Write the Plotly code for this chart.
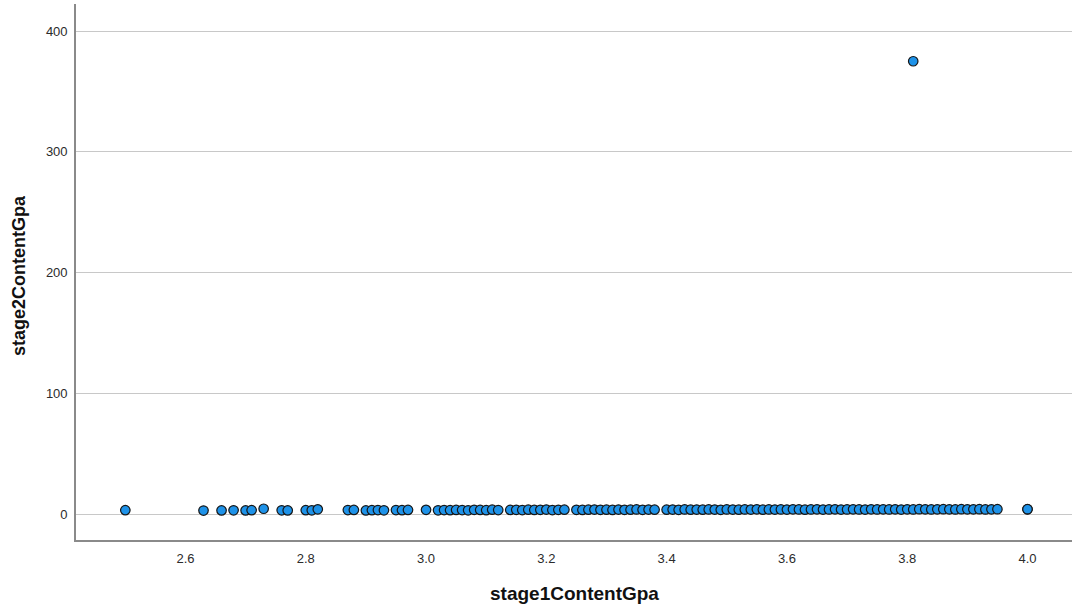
import plotly.graph_objects as go

# ---- data ----
stage1_low = [2.50, 2.63, 2.66, 2.68, 2.70, 2.71, 2.73, 2.76, 2.77, 2.80, 2.81,
              2.82, 2.87, 2.88, 2.90, 2.91, 2.92, 2.93, 2.95, 2.96, 2.97, 3.00]
stage2_low = [3.2, 2.9, 3.0, 3.1, 3.0, 3.2, 4.4, 3.1, 3.0, 3.2, 3.1,
              3.9, 3.3, 3.4, 3.0, 3.2, 3.3, 3.1, 3.3, 3.2, 3.4, 3.5]

stage1_a = [3.02, 3.03, 3.04, 3.05, 3.06, 3.07, 3.08, 3.09, 3.10, 3.11, 3.12]
stage2_a = [3.1, 3.3, 3.2, 3.4, 3.3, 3.1, 3.5, 3.4, 3.2, 3.6, 3.3]

stage1_b = [3.14, 3.15, 3.16, 3.17, 3.18, 3.19, 3.20, 3.21, 3.22, 3.23]
stage2_b = [3.4, 3.5, 3.3, 3.6, 3.4, 3.5, 3.7, 3.3, 3.5, 3.6]

stage1_c = [3.25, 3.26, 3.27, 3.28, 3.29, 3.30, 3.31, 3.32, 3.33, 3.34, 3.35,
            3.36, 3.37, 3.38]
stage2_c = [3.5, 3.4, 3.6, 3.7, 3.5, 3.6, 3.4, 3.7, 3.5, 3.6, 3.8,
            3.5, 3.7, 3.6]

stage1_d = [3.40, 3.41, 3.42, 3.43, 3.44, 3.45, 3.46, 3.47, 3.48, 3.49,
            3.50, 3.51, 3.52, 3.53, 3.54, 3.55, 3.56, 3.57, 3.58, 3.59,
            3.60, 3.61, 3.62, 3.63, 3.64, 3.65, 3.66, 3.67, 3.68, 3.69,
            3.70, 3.71, 3.72, 3.73, 3.74, 3.75, 3.76, 3.77, 3.78, 3.79,
            3.80, 3.81, 3.82, 3.83, 3.84, 3.85, 3.86, 3.87, 3.88, 3.89,
            3.90, 3.91, 3.92, 3.93, 3.94, 3.95]
stage2_d = [3.6, 3.7, 3.5, 3.8, 3.6, 3.7, 3.6, 3.8, 3.7, 3.5,
            3.8, 3.7, 3.6, 3.8, 3.7, 3.9, 3.6, 3.8, 3.7, 3.8,
            3.7, 3.9, 3.8, 3.6, 3.8, 3.9, 3.7, 3.8, 3.9, 3.7,
            3.8, 3.9, 3.8, 3.7, 3.9, 3.8, 3.9, 3.8, 3.9, 3.7,
            3.9, 3.8, 4.0, 3.9, 3.8, 3.9, 4.0, 3.9, 3.8, 4.0,
            3.9, 3.9, 4.0, 3.8, 3.9, 4.0]

stage1_high = [4.00, 4.00, 3.81]
stage2_high = [3.9, 4.0, 375.0]

stage1 = stage1_low + stage1_a + stage1_b + stage1_c + stage1_d + stage1_high
stage2 = stage2_low + stage2_a + stage2_b + stage2_c + stage2_d + stage2_high

x_ticks = [2.6, 2.8, 3.0, 3.2, 3.4, 3.6, 3.8, 4.0]
y_ticks = [0, 100, 200, 300, 400]

FONT = "Liberation Sans, Arial, sans-serif"

fig = go.Figure(
    go.Scatter(
        x=stage1, y=stage2, mode="markers",
        marker=dict(size=9.5, color="#1e92e8",
                    line=dict(color="#161616", width=1.2)),
        hoverinfo="x+y",
    )
)

fig.update_layout(
    width=1072, height=609,
    margin=dict(l=76, r=0, t=4, b=69),
    paper_bgcolor="white", plot_bgcolor="white",
    showlegend=False,
    font=dict(family=FONT, size=13, color="#2b2b2b"),
)

fig.update_xaxes(
    range=[2.418, 4.074],
    tickvals=x_ticks, ticktext=[f"{v:.1f}" for v in x_ticks],
    showgrid=False, zeroline=False,
    showline=True, linecolor="#8a8a8a", linewidth=1.6,
    ticks="outside", ticklen=6, tickcolor="rgba(0,0,0,0)",
    tickfont=dict(family=FONT, size=13, color="#2b2b2b"),
)
fig.update_yaxes(
    range=[-21.5, 422.4],
    tickvals=y_ticks, ticktext=[str(v) for v in y_ticks],
    showgrid=True, gridcolor="#c8c8c8", gridwidth=1,
    zeroline=False,
    showline=True, linecolor="#8a8a8a", linewidth=1.6,
    ticks="outside", ticklen=4, tickcolor="rgba(0,0,0,0)",
    tickfont=dict(family=FONT, size=13, color="#2b2b2b"),
)

fig.add_annotation(
    text="<b>stage1ContentGpa</b>", xref="paper", yref="paper",
    x=0.5005, y=0, xanchor="center", yanchor="middle", yshift=-53,
    showarrow=False, font=dict(family=FONT, size=19, color="#111111"),
)
fig.add_annotation(
    text="<b>stage2ContentGpa</b>", xref="paper", yref="paper",
    x=0, y=0.4925, xanchor="center", yanchor="middle", xshift=-57,
    textangle=-90,
    showarrow=False, font=dict(family=FONT, size=18, color="#111111"),
)

fig.write_html(
    "out.html",
    config={"displayModeBar": False},
    post_script="document.body.style.margin='0';document.body.style.overflow='hidden';",
)
